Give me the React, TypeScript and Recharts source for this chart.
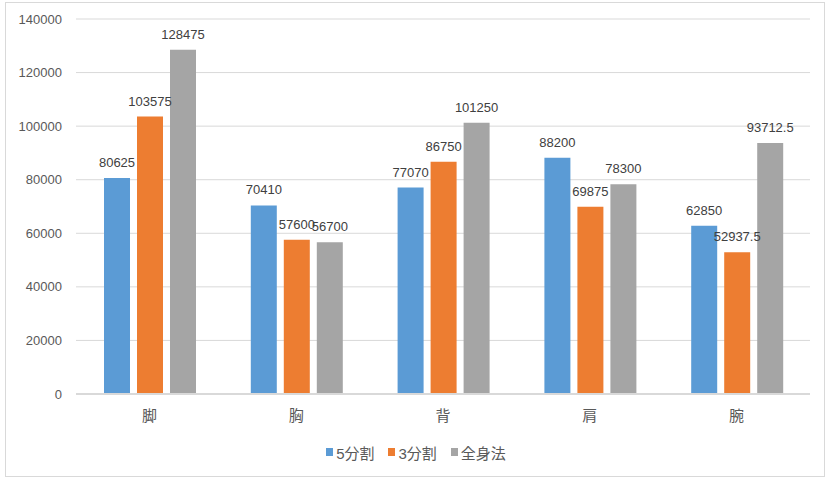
import React from 'react';
import { BarChart, Bar, XAxis, YAxis, CartesianGrid, Legend, LabelList } from 'recharts';

const categories = ['脚', '胸', '背', '肩', '腕'];
const split5 = [80625, 70410, 77070, 88200, 62850];
const split3 = [103575, 57600, 86750, 69875, 52937.5];
const fullBody = [128475, 56700, 101250, 78300, 93712.5];
const yTicks = [0, 20000, 40000, 60000, 80000, 100000, 120000, 140000];

const seriesNames = ['5分割', '3分割', '全身法'];
const colors = ['#5B9BD5', '#ED7D31', '#A5A5A5'];

const data = categories.map((c, i) => ({
  name: c,
  s5: split5[i],
  s3: split3[i],
  full: fullBody[i],
}));

const FONT = "'Liberation Sans', 'Noto Sans CJK JP', sans-serif";

const renderLegend = () => (
  <div
    style={{
      height: 36,
      display: 'flex',
      alignItems: 'center',
      justifyContent: 'center',
      fontFamily: FONT,
      fontSize: 15,
      color: '#595959',
      paddingLeft: 22,
    }}
  >
    {seriesNames.map((n, i) => (
      <div key={n} style={{ display: 'flex', alignItems: 'center', marginRight: i < 2 ? 14 : 0 }}>
        <span style={{ display: 'inline-block', width: 7, height: 8, background: colors[i], marginRight: 3 }} />
        <span>{n}</span>
      </div>
    ))}
  </div>
);

export default function App() {
  return (
    <div style={{ position: 'fixed', left: 0, top: 0, width: 830, height: 488, background: '#fff' }}>
      <div
        style={{
          position: 'absolute',
          left: 5,
          top: 2,
          width: 820,
          height: 475,
          border: '1px solid #D9D9D9',
          boxSizing: 'border-box',
        }}
      />
      <div style={{ position: 'absolute', left: 0, top: 0 }}>
        <BarChart
          width={830}
          height={488}
          data={data}
          margin={{ top: 19, right: 20, left: 0, bottom: 18 }}
          barCategoryGap={28}
          barGap={7}
        >
          <CartesianGrid vertical={false} stroke="#D9D9D9" />
          <XAxis
            dataKey="name"
            height={40}
            tickSize={0}
            tickMargin={16}
            axisLine={{ stroke: '#D9D9D9', strokeWidth: 2 }}
            tick={{ fill: '#595959', fontSize: 15, fontFamily: FONT }}
          />
          <YAxis
            width={76}
            domain={[0, 140000]}
            ticks={yTicks}
            interval={0}
            tickSize={0}
            tickMargin={14}
            axisLine={false}
            tick={{ fill: '#595959', fontSize: 13, fontFamily: FONT }}
          />
          <Legend verticalAlign="bottom" content={renderLegend} />
          <Bar dataKey="s5" name={seriesNames[0]} fill={colors[0]} isAnimationActive={false}>
            <LabelList dataKey="s5" position="top" offset={11} fill="#404040" fontSize={13} fontFamily={FONT} />
          </Bar>
          <Bar dataKey="s3" name={seriesNames[1]} fill={colors[1]} isAnimationActive={false}>
            <LabelList dataKey="s3" position="top" offset={11} fill="#404040" fontSize={13} fontFamily={FONT} />
          </Bar>
          <Bar dataKey="full" name={seriesNames[2]} fill={colors[2]} isAnimationActive={false}>
            <LabelList dataKey="full" position="top" offset={11} fill="#404040" fontSize={13} fontFamily={FONT} />
          </Bar>
        </BarChart>
      </div>
    </div>
  );
}
